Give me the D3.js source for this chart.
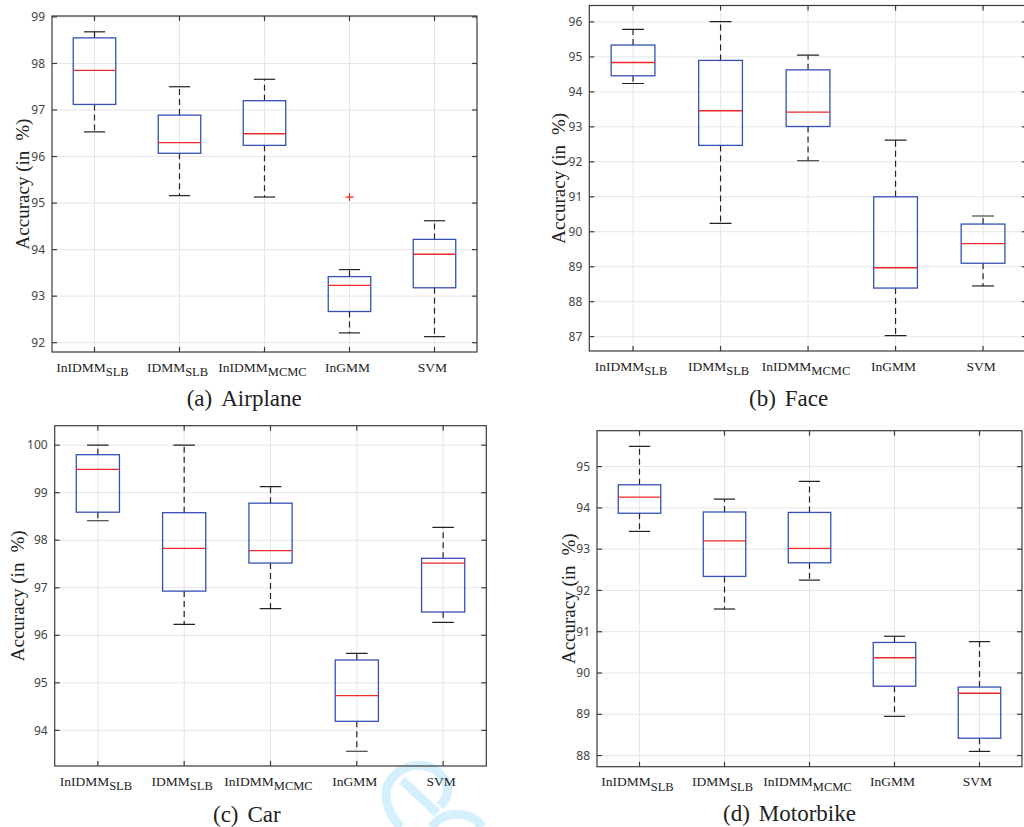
<!DOCTYPE html>
<html>
<head>
<meta charset="utf-8">
<script src="https://cdn.jsdelivr.net/npm/d3@7"></script>
<style>
  html, body { margin: 0; padding: 0; background: #fff; }
  svg { display: block; }
</style>
</head>
<body>
<svg id="chart" width="1024" height="827"></svg>
<script>
// ---------------- DATA ----------------
const categoryBase = ["InIDMM", "IDMM", "InIDMM", "InGMM", "SVM"];
const categorySub  = ["SLB", "SLB", "MCMC", "", ""];

// [lower whisker, Q1, median, Q3, upper whisker]
const airplaneStats = [
  [96.53, 97.12, 97.85, 98.55, 98.68],
  [95.16, 96.07, 96.30, 96.89, 97.50],
  [95.13, 96.24, 96.49, 97.20, 97.66],
  [92.21, 92.67, 93.23, 93.42, 93.57],
  [92.13, 93.18, 93.90, 94.22, 94.62]
];
const airplaneOutliers = [[], [], [], [95.13], []];

const faceStats = [
  [94.24, 94.46, 94.84, 95.34, 95.79],
  [90.24, 92.47, 93.46, 94.90, 96.01],
  [92.03, 93.01, 93.42, 94.63, 95.05],
  [87.03, 88.39, 88.97, 91.00, 92.62],
  [88.45, 89.10, 89.66, 90.22, 90.45]
];
const faceOutliers = [[], [], [], [], []];

const carStats = [
  [98.41, 98.59, 99.49, 99.80, 100.00],
  [96.23, 96.93, 97.83, 98.58, 100.00],
  [96.56, 97.52, 97.78, 98.78, 99.13],
  [93.56, 94.19, 94.73, 95.48, 95.62],
  [96.27, 96.49, 97.52, 97.62, 98.27]
];
const carOutliers = [[], [], [], [], []];

const motorbikeStats = [
  [93.43, 93.87, 94.26, 94.56, 95.49],
  [91.55, 92.34, 93.20, 93.90, 94.21],
  [92.25, 92.67, 93.02, 93.89, 94.64],
  [88.95, 89.68, 90.37, 90.74, 90.89],
  [88.10, 88.42, 89.51, 89.66, 90.76]
];
const motorbikeOutliers = [[], [], [], [], []];

const airplaneTicks  = [92, 93, 94, 95, 96, 97, 98, 99];
const faceTicks      = [87, 88, 89, 90, 91, 92, 93, 94, 95, 96];
const carTicks       = [94, 95, 96, 97, 98, 99, 100];
const motorbikeTicks = [88, 89, 90, 91, 92, 93, 94, 95];

const airplaneDomain  = [91.8, 99.02];
const faceDomain      = [86.59, 96.47];
const carDomain       = [93.25, 100.41];
const motorbikeDomain = [87.73, 95.87];

const captionLetters = ["(a)", "(b)", "(c)", "(d)"];
const captionNames   = ["Airplane", "Face", "Car", "Motorbike"];
const yAxisTitleA = "Accuracy (in";
const yAxisTitleB = "%)";

// ---------------- LAYOUT ----------------
const panels = [
  { stats: airplaneStats, outliers: airplaneOutliers, ticks: airplaneTicks, domain: airplaneDomain,
    left: 52, right: 477, top: 16, bottom: 352, ylabX: 28.5, capX: 186.7, capY: 405.7 },
  { stats: faceStats, outliers: faceOutliers, ticks: faceTicks, domain: faceDomain,
    left: 589.3, right: 1026.8, top: 5.5, bottom: 351, ylabX: 564.7, capX: 749, capY: 406 },
  { stats: carStats, outliers: carOutliers, ticks: carTicks, domain: carDomain,
    left: 54.7, right: 486.3, top: 425.7, bottom: 766, ylabX: 24, capX: 213, capY: 822 },
  { stats: motorbikeStats, outliers: motorbikeOutliers, ticks: motorbikeTicks, domain: motorbikeDomain,
    left: 597, right: 1022, top: 430.7, bottom: 766.7, ylabX: 574.7, capX: 723, capY: 821 }
];

const svg = d3.select("#chart");

// faint watermark (background artefact in the reference)
const wm = svg.append("g").attr("fill", "none").attr("stroke", "#d3f0fc").attr("stroke-width", 9);
wm.append("path").attr("d", "M 401 827 C 386 812, 380 790, 394 776 C 410 760, 436 762, 446 782 C 450 792, 446 800, 440 806");
wm.append("path").attr("d", "M 402 780 L 437 813");
wm.append("path").attr("d", "M 432 827 C 440 812, 470 808, 482 827");

const catIdx = d3.range(1, categoryBase.length + 1);

panels.forEach((p, pi) => {
  const g = svg.append("g");
  const x = d3.scaleLinear().domain([0.5, categoryBase.length + 0.5]).range([p.left, p.right]);
  const y = d3.scaleLinear().domain(p.domain).range([p.bottom, p.top]);
  const bw = x(1.25) - x(1);   // half box width
  const cw = x(1.125) - x(1);  // half cap width

  const clipId = "clip" + pi;
  svg.append("clipPath").attr("id", clipId).append("rect")
    .attr("x", p.left).attr("y", p.top).attr("width", p.right - p.left).attr("height", p.bottom - p.top);

  const grid = g.append("g").attr("stroke", "#e6e6e6").attr("stroke-width", 1);
  grid.selectAll(".hy").data(p.ticks).join("line")
    .attr("x1", p.left).attr("x2", p.right)
    .attr("y1", d => y(d)).attr("y2", d => y(d));
  grid.selectAll(".vx").data(catIdx).join("line")
    .attr("x1", d => x(d)).attr("x2", d => x(d))
    .attr("y1", p.top).attr("y2", p.bottom);

  g.append("rect").attr("x", p.left).attr("y", p.top)
    .attr("width", p.right - p.left).attr("height", p.bottom - p.top)
    .attr("fill", "none").attr("stroke", "#3a3a3a").attr("stroke-width", 1.2);

  const tk = g.append("g").attr("stroke", "#3a3a3a").attr("stroke-width", 1.2);
  p.ticks.forEach(t => {
    tk.append("line").attr("x1", p.left).attr("x2", p.left + 5).attr("y1", y(t)).attr("y2", y(t));
    tk.append("line").attr("x1", p.right).attr("x2", p.right - 5).attr("y1", y(t)).attr("y2", y(t));
  });
  catIdx.forEach(c => {
    tk.append("line").attr("x1", x(c)).attr("x2", x(c)).attr("y1", p.bottom).attr("y2", p.bottom - 5);
    tk.append("line").attr("x1", x(c)).attr("x2", x(c)).attr("y1", p.top).attr("y2", p.top + 5);
  });

  g.selectAll(".yt").data(p.ticks).join("text")
    .attr("x", p.left - 7).attr("y", d => y(d)).attr("dy", "0.35em")
    .attr("text-anchor", "end")
    .attr("font-family", "'Noto Sans', 'Open Sans', sans-serif")
    .attr("font-size", 12).attr("fill", "#444")
    .text(d => d);

  catIdx.forEach((c, i) => {
    const t = g.append("text")
      .attr("x", x(c) - 2).attr("y", p.bottom + 19.5)
      .attr("text-anchor", "middle")
      .attr("font-family", "'Liberation Serif', 'Times New Roman', serif")
      .attr("font-size", 13.5).attr("fill", "#222");
    t.append("tspan").text(categoryBase[i]);
    if (categorySub[i]) {
      t.append("tspan").attr("dy", 4.5).attr("font-size", 12.5).text(categorySub[i]);
    }
  });

  const boxes = g.append("g").attr("clip-path", `url(#${clipId})`);
  p.stats.forEach((s, i) => {
    const cx = x(i + 1);
    const [lo, q1, med, q3, hi] = s;
    boxes.append("line").attr("x1", cx).attr("x2", cx).attr("y1", y(q3)).attr("y2", y(hi))
      .attr("stroke", "#222").attr("stroke-width", 1.2).attr("stroke-dasharray", "6,4");
    boxes.append("line").attr("x1", cx).attr("x2", cx).attr("y1", y(q1)).attr("y2", y(lo))
      .attr("stroke", "#222").attr("stroke-width", 1.2).attr("stroke-dasharray", "6,4");
    [lo, hi].forEach(v => {
      boxes.append("line").attr("x1", cx - cw).attr("x2", cx + cw).attr("y1", y(v)).attr("y2", y(v))
        .attr("stroke", "#222").attr("stroke-width", 1.2);
    });
    boxes.append("rect").attr("x", cx - bw).attr("y", y(q3))
      .attr("width", 2 * bw).attr("height", y(q1) - y(q3))
      .attr("fill", "none").attr("stroke", "#3550b4").attr("stroke-width", 1.3);
    boxes.append("line").attr("x1", cx - bw).attr("x2", cx + bw).attr("y1", y(med)).attr("y2", y(med))
      .attr("stroke", "#ee2a2a").attr("stroke-width", 1.3);
    p.outliers[i].forEach(o => {
      boxes.append("path")
        .attr("d", `M${cx - 4},${y(o)}H${cx + 4}M${cx},${y(o) - 4}V${y(o) + 4}`)
        .attr("stroke", "#ee2a2a").attr("stroke-width", 1.2);
    });
  });

  // y axis title (wider gap before % as in the reference)
  const yl = g.append("text")
    .attr("transform", `translate(${p.ylabX},${(p.top + p.bottom) / 2}) rotate(-90)`)
    .attr("text-anchor", "middle")
    .attr("font-family", "'Liberation Serif', 'Times New Roman', serif")
    .attr("font-size", 19).attr("fill", "#222");
  yl.append("tspan").text(yAxisTitleA);
  yl.append("tspan").attr("dx", 10).text(yAxisTitleB);

  const cap = g.append("text").attr("x", p.capX).attr("y", p.capY)
    .attr("font-family", "'Liberation Serif', 'Times New Roman', serif")
    .attr("font-size", 23).attr("fill", "#222");
  cap.append("tspan").text(captionLetters[pi]);
  cap.append("tspan").attr("dx", 9).text(captionNames[pi]);
});
</script>
</body>
</html>
